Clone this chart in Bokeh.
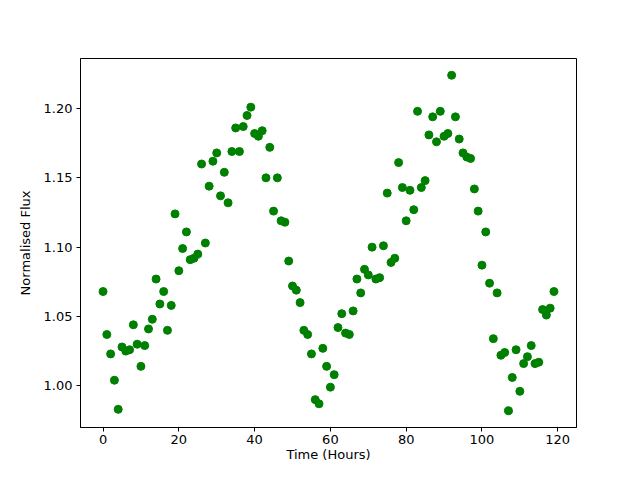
import numpy as np
from bokeh.plotting import figure
from bokeh.models import FixedTicker, Range1d, PrintfTickFormatter
from bokeh.embed import file_html
from bokeh.resources import INLINE

hours = list(range(120))
flux = [
    1.068, 1.037, 1.023, 1.004, 0.983, 1.028, 1.025, 1.026, 1.044, 1.030,
    1.014, 1.029, 1.041, 1.048, 1.077, 1.059, 1.068, 1.040, 1.058, 1.124,
    1.083, 1.099, 1.111, 1.091, 1.092, 1.095, 1.160, 1.103, 1.144, 1.162,
    1.168, 1.137, 1.154, 1.132, 1.169, 1.186, 1.169, 1.187, 1.195, 1.201,
    1.182, 1.180, 1.184, 1.150, 1.172, 1.126, 1.150, 1.119, 1.118, 1.090,
    1.072, 1.069, 1.060, 1.040, 1.037, 1.023, 0.990, 0.987, 1.027, 1.014,
    0.999, 1.008, 1.042, 1.052, 1.038, 1.037, 1.054, 1.077, 1.067, 1.084,
    1.080, 1.100, 1.077, 1.078, 1.101, 1.139, 1.089, 1.092, 1.161, 1.143,
    1.119, 1.141, 1.127, 1.198, 1.143, 1.148, 1.181, 1.194, 1.176, 1.198,
    1.180, 1.182, 1.224, 1.194, 1.178, 1.168, 1.165, 1.164, 1.142, 1.126,
    1.087, 1.111, 1.074, 1.034, 1.067, 1.022, 1.024, 0.982, 1.006, 1.026,
    0.996, 1.016, 1.021, 1.029, 1.016, 1.017, 1.055, 1.051, 1.056, 1.068,
]
x_ticks = [0, 20, 40, 60, 80, 100, 120]
y_ticks = [1.00, 1.05, 1.10, 1.15, 1.20]

xmin, xmax = min(hours), max(hours)
ymin, ymax = min(flux), max(flux)
xm = 0.05 * (xmax - xmin)
ym = 0.05 * (ymax - ymin)

p = figure(width=624, height=464, output_backend="svg", toolbar_location=None,
           x_range=Range1d(xmin - xm, xmax + xm), y_range=Range1d(ymin - ym, ymax + ym),
           min_border_left=80, min_border_right=48, min_border_top=58, min_border_bottom=37)

p.scatter(hours, flux, size=8, color="#008000", line_color="#008000")

p.xgrid.visible = False
p.ygrid.visible = False
p.outline_line_color = "black"
p.outline_line_width = 1
p.outline_line_alpha = 1

p.xaxis.ticker = FixedTicker(ticks=x_ticks)
p.yaxis.ticker = FixedTicker(ticks=y_ticks)
p.yaxis.formatter = PrintfTickFormatter(format="%.2f")
p.xaxis.axis_label = "Time (Hours)"
p.yaxis.axis_label = "Normalised Flux"

for ax in (p.xaxis[0], p.yaxis[0]):
    ax.major_label_text_font = "DejaVu Sans"
    ax.major_label_text_font_size = "13px"
    ax.major_label_text_color = "black"
    ax.axis_label_text_font = "DejaVu Sans"
    ax.axis_label_text_font_size = "13px"
    ax.axis_label_text_font_style = "normal"
    ax.axis_label_text_color = "black"
    ax.minor_tick_line_color = None
    ax.major_tick_out = 4
    ax.major_tick_in = 0
    ax.major_tick_line_color = "black"
    ax.axis_line_color = "black"

p.xaxis[0].major_label_standoff = 3
p.xaxis[0].axis_label_standoff = 0
p.yaxis[0].major_label_standoff = 4
p.yaxis[0].axis_label_standoff = 8

open("out.html", "w").write(file_html(p, INLINE))
